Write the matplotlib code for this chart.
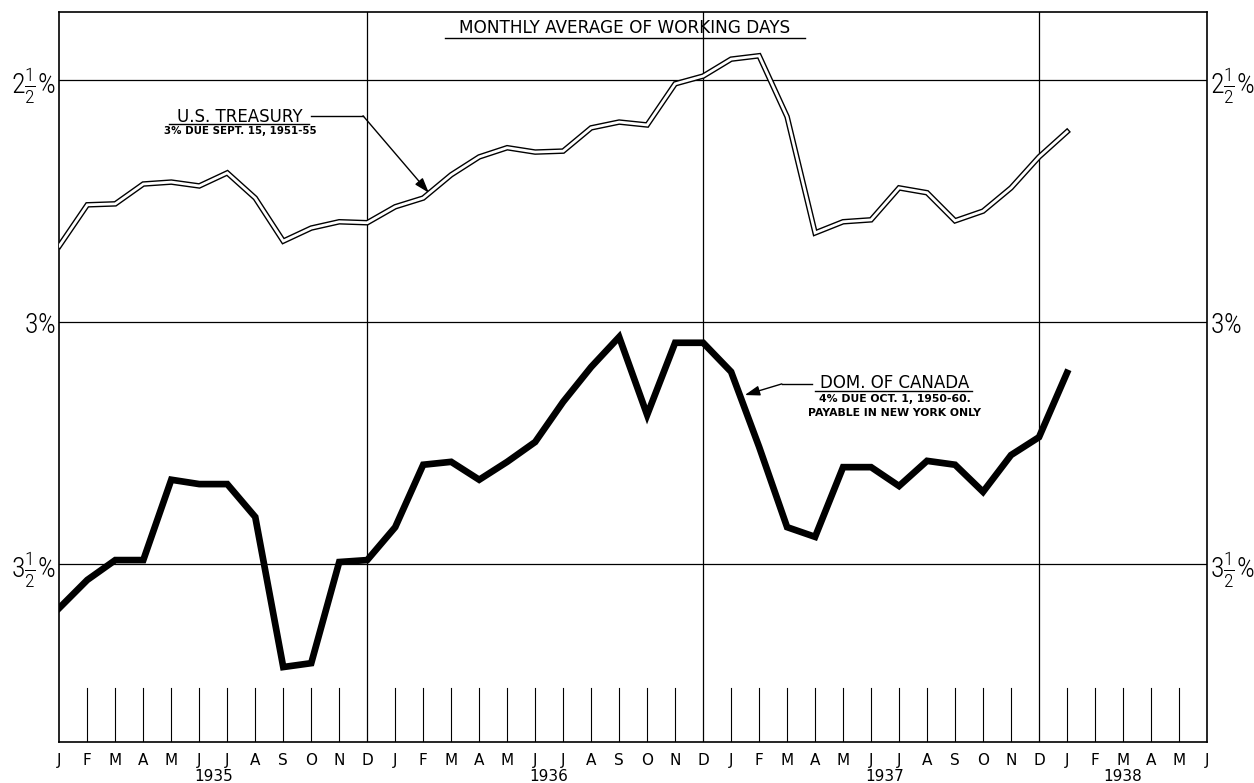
""" bond yields 1935-38, monthly average of working days """

import numpy as np
import matplotlib
matplotlib.use("Agg")
import matplotlib.pyplot as plt
from matplotlib import font_manager

# month labels along the bottom, 1935 .. mid 1938
months = list("JFMAMJJASOND") * 3 + list("JFMAMJ")
years = ["1935", "1936", "1937", "1938"]
year_pos = [5.5, 17.5, 29.5, 38.0]
year_ends = [11, 23, 35]          # D of each year gets a full height line

# yields in percent, Jan 1935 .. Jan 1938
treasury = [2.843, 2.758, 2.756, 2.715, 2.711, 2.719, 2.692, 2.744, 2.833, 2.806,
            2.793, 2.795, 2.762, 2.744, 2.696, 2.659, 2.640, 2.649, 2.647, 2.599,
            2.587, 2.593, 2.508, 2.492, 2.457, 2.450, 2.576, 2.816, 2.793, 2.789,
            2.723, 2.733, 2.791, 2.771, 2.723, 2.659, 2.607]
canada = [3.591, 3.533, 3.492, 3.492, 3.326, 3.335, 3.335, 3.403, 3.713, 3.705,
          3.496, 3.492, 3.424, 3.295, 3.289, 3.326, 3.289, 3.248, 3.165, 3.093,
          3.031, 3.192, 3.043, 3.043, 3.103, 3.258, 3.424, 3.444, 3.300, 3.300,
          3.339, 3.287, 3.295, 3.351, 3.275, 3.238, 3.105]

yticks = [2.5, 3.0, 3.5]
ylabels_left = [r"$\mathrm{2\frac{1}{2}\%}$", r"$\mathrm{3\%}$", r"$\mathrm{3\frac{1}{2}\%}$"]
ylabels_right = [r"$\mathrm{2\frac{1}{2}\%}$", r"$\mathrm{3\%.}$", r"$\mathrm{3\frac{1}{2}\%}$"]

# narrow face for the big percent labels, first one found
names = {f.name for f in font_manager.fontManager.ttflist}
narrow = next((n for n in ["Roboto Condensed", "Liberation Sans Narrow", "Roboto"]
               if n in names), "DejaVu Sans")
print("percent label font:", narrow)

plt.rcParams['font.family'] = ['DejaVu Sans']
plt.rcParams['mathtext.fontset'] = 'custom'
plt.rcParams['mathtext.rm'] = narrow + ":light"
plt.rcParams['mathtext.it'] = narrow
plt.rcParams['mathtext.bf'] = narrow

fig = plt.figure(figsize=(12.54, 7.83), dpi=100)
ax = fig.add_axes([0.0473, 0.0524, 0.9152, 0.9327])

x = np.arange(len(treasury))

# grid: horizontal rules and year dividers
for y in yticks:
    ax.axhline(y, color="black", lw=0.9, zorder=1)
for d in year_ends:
    ax.axvline(d, color="black", lw=0.9, zorder=1)
# short month ticks at the bottom
for i in range(1, len(months) - 1):
    if i not in year_ends:
        ax.axvline(i, ymin=0, ymax=0.074, color="black", lw=0.8, zorder=1)

# U.S. Treasury: double (outlined) line
ax.plot(x, treasury, color="black", lw=4.0, solid_joinstyle="miter", zorder=3)
ax.plot(x, treasury, color="white", lw=2.0, solid_joinstyle="miter", zorder=4)

# Dominion of Canada: heavy line
ax.plot(x, canada, color="black", lw=4.8, solid_joinstyle="miter", zorder=3)

# title
ax.text(20.2, 2.392, "MONTHLY AVERAGE OF WORKING DAYS", ha="center", va="center",
        fontsize=12.2, zorder=5)
ax.plot([13.78, 26.63], [2.413, 2.413], color="black", lw=1.0, zorder=5)

# treasury label + leader
ax.text(6.45, 2.576, "U.S. TREASURY", ha="center", va="center", fontsize=12, zorder=5)
ax.plot([3.92, 8.92], [2.5915, 2.5915], color="black", lw=1.0, zorder=5)
ax.text(6.45, 2.606, "3% DUE SEPT. 15, 1951-55", ha="center", va="center",
        fontsize=7.4, fontweight="bold", zorder=5)
ax.plot([9.0, 10.85], [2.574, 2.574], color="black", lw=1.0, zorder=5)
ax.annotate("", xy=(13.2, 2.733), xytext=(10.85, 2.574),
            arrowprops=dict(arrowstyle="-|>,head_length=0.9,head_width=0.3",
                            color="black", lw=1.0, shrinkA=0, shrinkB=0), zorder=5)

# canada label + leader
ax.text(29.85, 3.126, "DOM. OF CANADA", ha="center", va="center", fontsize=12, zorder=5)
ax.plot([27.0, 32.6], [3.143, 3.143], color="black", lw=1.0, zorder=5)
ax.text(29.85, 3.159, "4% DUE OCT. 1, 1950-60.", ha="center", va="center",
        fontsize=7.8, fontweight="bold", zorder=5)
ax.text(29.85, 3.189, "PAYABLE IN NEW YORK ONLY", ha="center", va="center",
        fontsize=7.8, fontweight="bold", zorder=5)
ax.plot([26.9, 25.81], [3.128, 3.128], color="black", lw=1.0, zorder=5)
ax.annotate("", xy=(24.49, 3.151), xytext=(25.81, 3.128),
            arrowprops=dict(arrowstyle="-|>,head_length=0.9,head_width=0.3",
                            color="black", lw=1.0, shrinkA=0, shrinkB=0), zorder=5)

# axes, ticks
ax.set_xlim(0, len(months) - 1)
ax.set_ylim(3.8678, 2.3589)
ax.set_xticks(range(len(months)))
ax.set_xticklabels(months, fontsize=11)
ax.set_yticks(yticks)
ax.set_yticklabels(ylabels_left, fontsize=20)
ax.tick_params(axis="x", length=0, pad=8)
ax.tick_params(axis="y", length=0, pad=2.5, labelright=True)
for tk, txt in zip(ax.yaxis.get_major_ticks(), ylabels_right):
    tk.label2.set_text(txt)
    tk.label2.set_fontsize(20)

for s in ax.spines.values():
    s.set_linewidth(1.2)

# year labels under the month letters
for yr, pos in zip(years, year_pos):
    ax.text(pos, -0.047, yr, transform=ax.get_xaxis_transform(), ha="center",
            va="center", fontsize=11)

fig.savefig("out.png", dpi=100)
